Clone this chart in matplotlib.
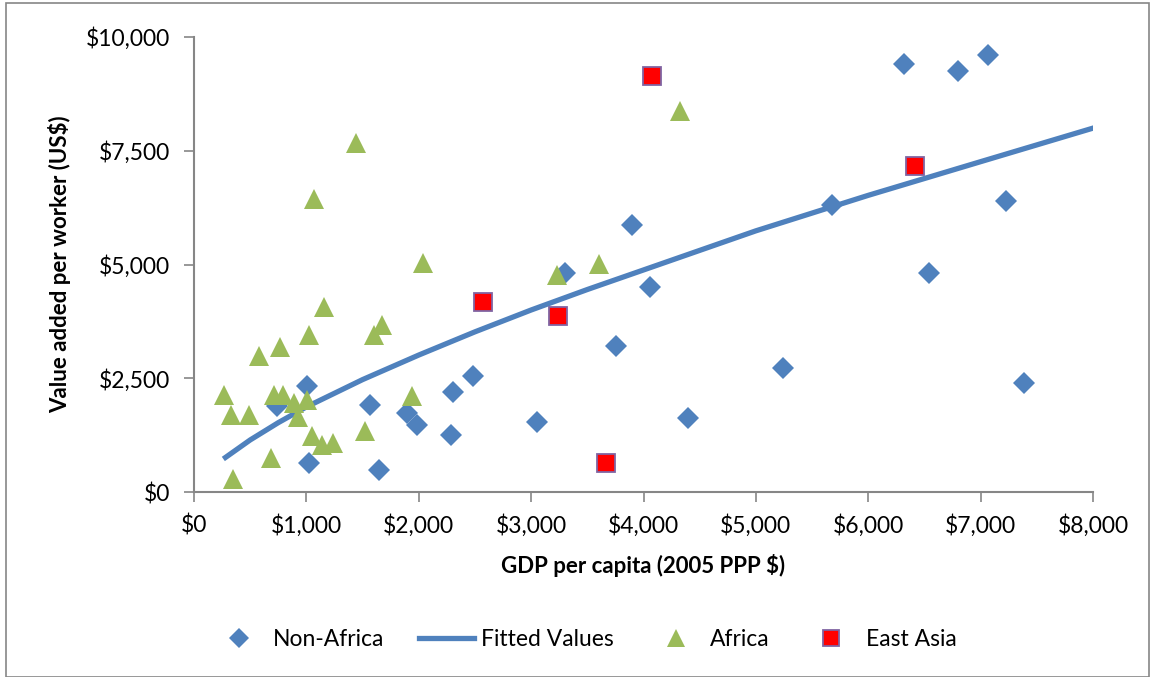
import matplotlib.pyplot as plt
from matplotlib.lines import Line2D
from matplotlib.patches import Rectangle
from matplotlib.ticker import FuncFormatter, MultipleLocator

plt.rcParams['font.family'] = ['Lato', 'DejaVu Sans']

# Non-Africa (blue diamonds)
nonafrica_x = [1010, 736, 1566, 1892, 1981, 2485, 2302, 2284, 1023, 1649,
               3894, 3301, 4057, 3752, 3049, 4392, 5240, 6314, 6803, 7070,
               5676, 7228, 6540, 7387]
nonafrica_y = [2320, 1883, 1921, 1738, 1481, 2543, 2200, 1261, 638, 475,
               5859, 4818, 4510, 3204, 1540, 1628, 2728, 9401, 9263, 9615,
               6299, 6394, 4803, 2398]

# Africa (green triangles)
africa_x = [1160, 1026, 765, 578, 2040, 1670, 1601, 267, 332, 492, 715, 789,
            893, 1003, 922, 1047, 1136, 1234, 1521, 1943, 685, 344, 1438, 1068,
            4327, 3232, 3603]
africa_y = [4070, 3461, 3190, 2999, 5023, 3666, 3446, 2141, 1701, 1701, 2126,
            2141, 1958, 2016, 1650, 1223, 1041, 1078, 1333, 2104, 748, 293,
            7679, 6431, 8374, 4766, 5017]

# East Asia (red squares)
eastasia_x = [4072, 2574, 3235, 3665, 6415]
eastasia_y = [9144, 4180, 3864, 638, 7164]

# Fitted values (curve)
fit_x = [261, 500, 750, 1000, 1500, 2000, 2500, 3000, 3500, 4000, 5000, 6000, 7000, 8016]
fit_y = [726, 1144, 1524, 1870, 2470, 3010, 3520, 4000, 4450, 4880, 5740, 6520, 7260, 8009]

fig = plt.figure(figsize=(11.55, 6.77), dpi=100)
fig.patches.append(Rectangle((6 / 1155, 0), 1143 / 1155, 674 / 677, transform=fig.transFigure,
                             fill=False, edgecolor='#868686', linewidth=1.2))

ax = fig.add_axes([194 / 1155, 1 - 492 / 677, 899 / 1155, 455 / 677])

ax.plot(fit_x, fit_y, color='#4F81BD', linewidth=3.8, solid_capstyle='butt', zorder=2)
ax.plot(nonafrica_x, nonafrica_y, 'D', color='#4F81BD', markersize=11.5,
        markeredgewidth=0, zorder=3)
ax.plot(africa_x, africa_y, '^', color='#9BBB59', markersize=14.5,
        markeredgewidth=0, zorder=3)
ax.plot(eastasia_x, eastasia_y, 's', color='#FF0000', markersize=13.5,
        markeredgecolor='#8064A2', markeredgewidth=1.3, zorder=4)

ax.set_xlim(0, 8000)
ax.set_ylim(0, 10000)
ax.xaxis.set_major_locator(MultipleLocator(1000))
ax.yaxis.set_major_locator(MultipleLocator(2500))
money = FuncFormatter(lambda v, p: '${:,.0f}'.format(v))
ax.xaxis.set_major_formatter(money)
ax.yaxis.set_major_formatter(money)

for s in ['top', 'right']:
    ax.spines[s].set_visible(False)
for s in ['left', 'bottom']:
    ax.spines[s].set_color('#868686')
    ax.spines[s].set_linewidth(1.5)
ax.tick_params(axis='both', colors='#868686', length=7, width=1.2, labelsize=16.5,
               labelcolor='black')
ax.tick_params(axis='x', pad=9)
ax.tick_params(axis='y', pad=10)

ax.set_xlabel('GDP per capita (2005 PPP $)', fontsize=16, fontweight='bold', labelpad=12)
ax.set_ylabel('Value added per worker (US$)', fontsize=16, fontweight='bold', labelpad=11)

handles = [
    Line2D([], [], marker='D', color='#4F81BD', linestyle='none', markersize=10, markeredgewidth=0),
    Line2D([], [], color='#4F81BD', linewidth=3.8),
    Line2D([], [], marker='^', color='#9BBB59', linestyle='none', markersize=13, markeredgewidth=0),
    Line2D([], [], marker='s', color='#FF0000', linestyle='none', markersize=12,
           markeredgecolor='#8064A2', markeredgewidth=1.3),
]
labels = ['Non-Africa', 'Fitted Values', 'Africa', 'East Asia']
fig.legend(handles, labels, loc='center', bbox_to_anchor=(584 / 1155, 1 - 640 / 677),
           ncol=4, frameon=False, fontsize=16.5, handlelength=2.4, handletextpad=0.3,
           columnspacing=1.5)

fig.savefig('out.png', dpi=100)
